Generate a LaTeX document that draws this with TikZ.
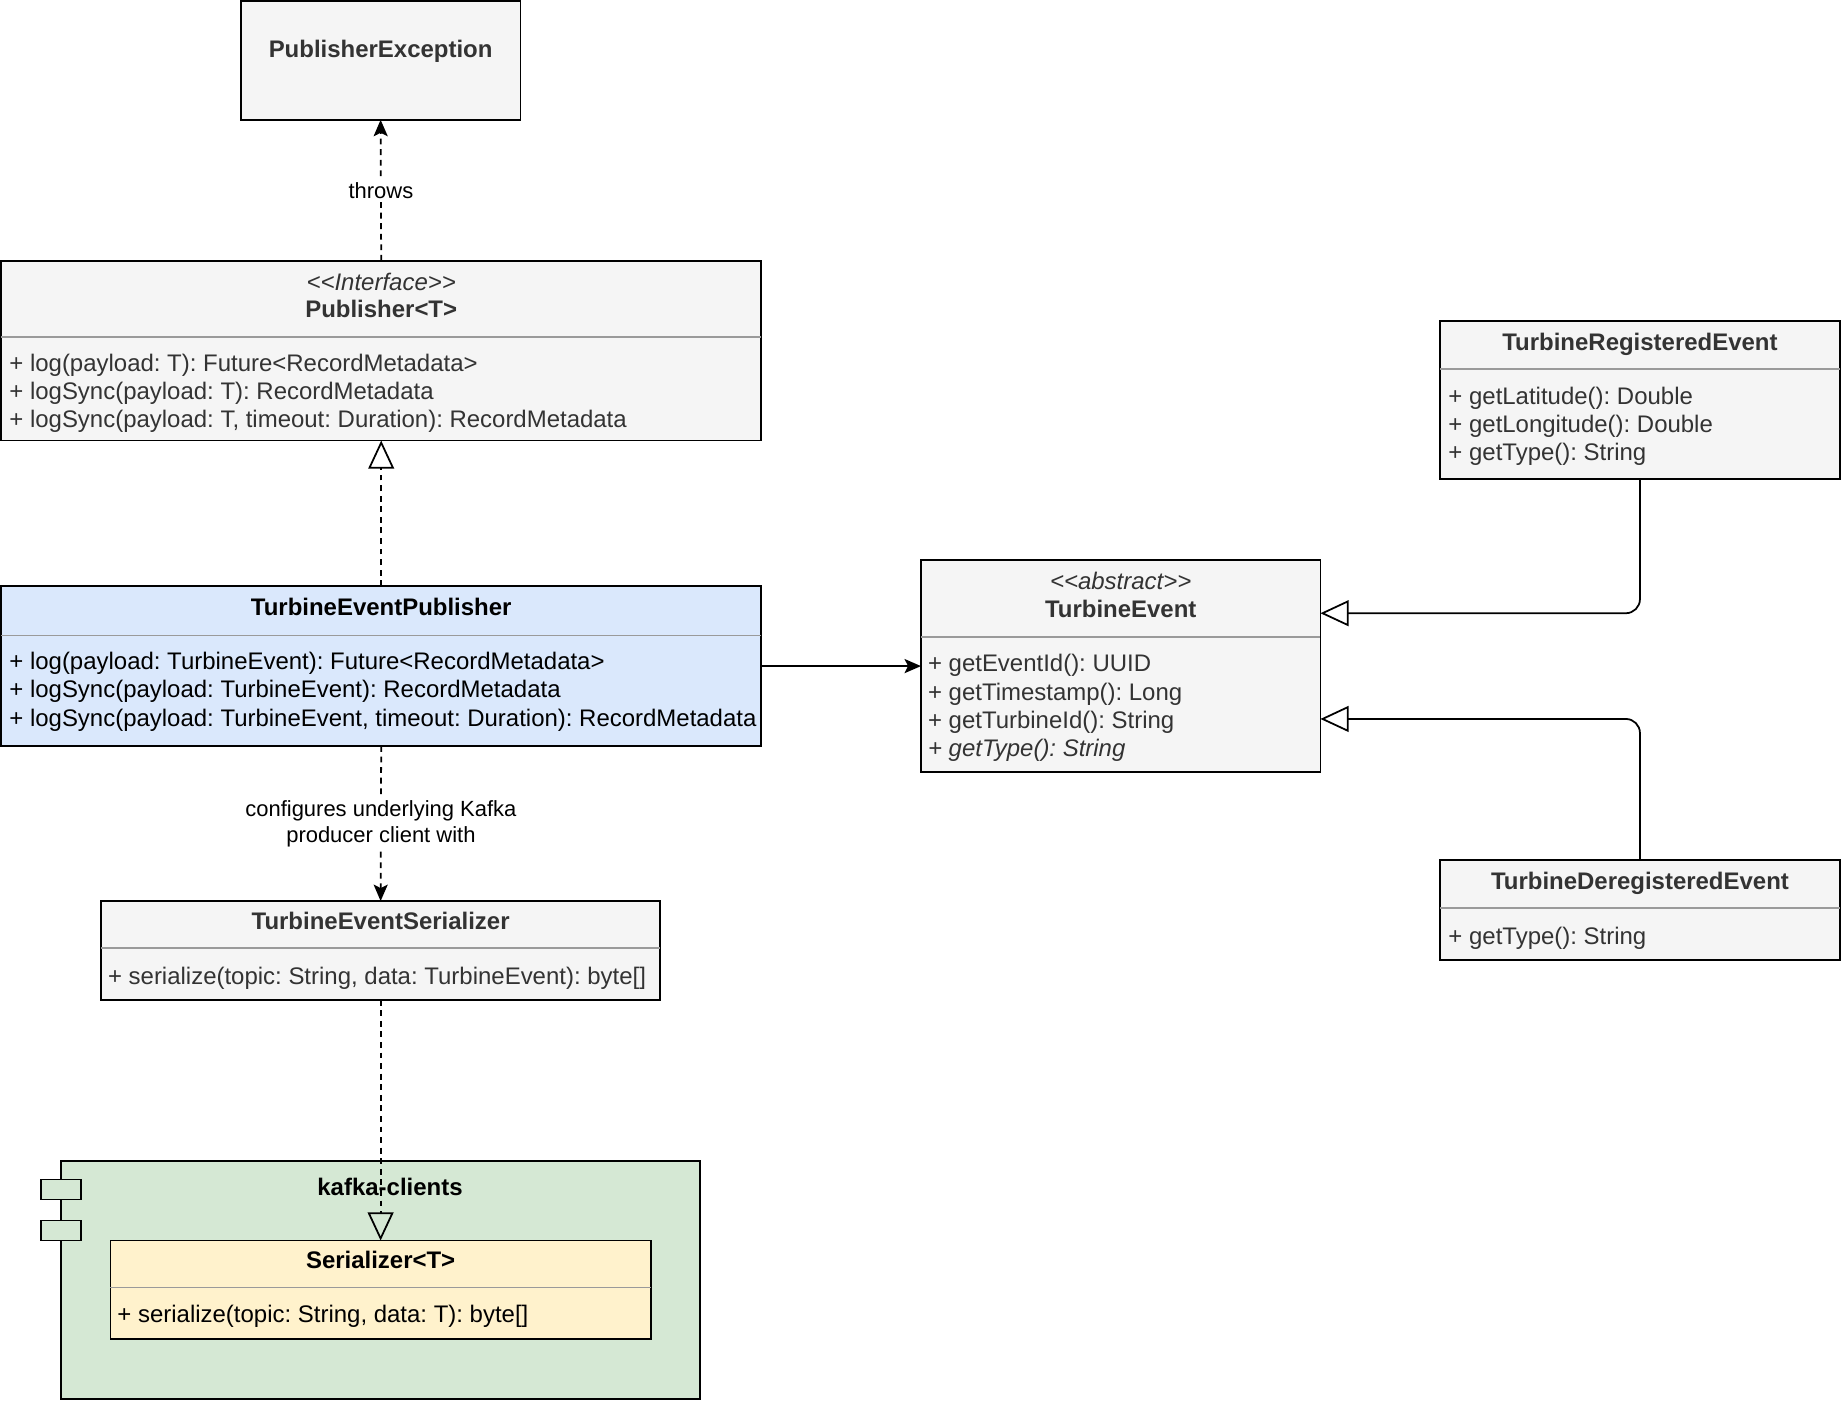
\documentclass[tikz,border=0pt]{standalone}
\usepackage{fontspec}
\setmainfont{Liberation Sans}
\usetikzlibrary{arrows.meta,calc}
\definecolor{grayfill}{HTML}{F5F5F5}
\definecolor{graytext}{HTML}{333333}
\definecolor{bluefill}{HTML}{DAE8FC}
\definecolor{greenfill}{HTML}{D5E8D4}
\definecolor{yellowfill}{HTML}{FFF2CC}
\definecolor{sepline}{HTML}{9A9A9A}
\frenchspacing
\tikzset{
 box/.style={draw=black, line width=1.5pt, inner sep=0pt, outer sep=0pt, anchor=north west},
 sepl/.style={draw=sepline, line width=1.5pt},
 txt/.style={inner sep=0pt, outer sep=0pt, font=\fontsize{20.4}{24}\selectfont},
 mth/.style={txt, anchor=base west},
 mthit/.style={txt, anchor=base west, font=\fontsize{20.4}{24}\selectfont\itshape},
 ttl/.style={txt, anchor=base, font=\fontsize{20.4}{24}\selectfont\bfseries},
 ster/.style={txt, anchor=base, font=\fontsize{20.4}{24}\selectfont\itshape},
 conn/.style={line width=1.5pt},
 dashedconn/.style={conn, dash pattern=on 5pt off 4pt},
 filledtip/.style={-{Stealth[length=14pt,width=12pt,inset=3pt]}},
 hollowtip/.style={-{Triangle[open,length=24pt,width=22pt]}},
 lbl/.style={inner sep=2pt, outer sep=0pt, fill=white, align=center, font=\fontsize{18.7}{22}\selectfont},
}
\begin{document}
\begin{tikzpicture}[x=1pt,y=-1pt]
\useasboundingbox (0,0) rectangle (1568,1193.5);

% PublisherException
\node[box, fill=grayfill, minimum width=238pt, minimum height=101pt] (pexc) at (205,1) {};
\node[ttl, text=graytext] (pexct) at (324,49) {PublisherException};

% Publisher<T>
\node[box, fill=grayfill, minimum width=647pt, minimum height=153pt] (pub) at (1,222) {};
\node[ster, text=graytext] (pubs) at (324.5,247) {{<}{<}Interface{>}{>}};
\node[ttl, text=graytext] (pubt) at (324.5,270) {Publisher{<}T{>}};
\draw[sepl] (pub.west|-0,287) -- (pub.east|-0,287);
\node[mth, text=graytext] (pubm1) at (8,316) {+ log(payload: T): Future{<}RecordMetadata{>}};
\node[mth, text=graytext] (pubm2) at (8,340) {+ logSync(payload: T): RecordMetadata};
\node[mth, text=graytext] (pubm3) at (8,364) {+ logSync(payload: T, timeout: Duration): RecordMetadata};

% TurbineEventPublisher
\node[box, fill=bluefill, minimum width=647pt, minimum height=136pt] (tep) at (1,499) {};
\node[ttl] (tept) at (324.5,524) {TurbineEventPublisher};
\draw[sepl] (tep.west|-0,541) -- (tep.east|-0,541);
\node[mth] (tepm1) at (8,570) {+ log(payload: TurbineEvent): Future{<}RecordMetadata{>}};
\node[mth] (tepm2) at (8,594) {+ logSync(payload: TurbineEvent): RecordMetadata};
\node[mth] (tepm3) at (8,618) {+ logSync(payload: TurbineEvent, timeout: Duration): RecordMetadata};

% TurbineEvent
\node[box, fill=grayfill, minimum width=340pt, minimum height=180pt] (te) at (784,477) {};
\node[ster, text=graytext] (tes1) at (954,502) {{<}{<}abstract{>}{>}};
\node[ttl, text=graytext] (tet) at (954,526) {TurbineEvent};
\draw[sepl] (te.west|-0,542) -- (te.east|-0,542);
\node[mth, text=graytext] (tem1) at (790,572) {+ getEventId(): UUID};
\node[mth, text=graytext] (tem2) at (790,596) {+ getTimestamp(): Long};
\node[mth, text=graytext] (tem3) at (790,620) {+ getTurbineId(): String};
\node[mthit, text=graytext] (tem4) at (790,644) {+ getType(): String};

% TurbineRegisteredEvent
\node[box, fill=grayfill, minimum width=340pt, minimum height=135pt] (tre) at (1226,273) {};
\node[ttl, text=graytext] (tret) at (1396,298) {TurbineRegisteredEvent};
\draw[sepl] (tre.west|-0,314) -- (tre.east|-0,314);
\node[mth, text=graytext] (trem1) at (1233,344) {+ getLatitude(): Double};
\node[mth, text=graytext] (trem2) at (1233,368) {+ getLongitude(): Double};
\node[mth, text=graytext] (trem3) at (1233,392) {+ getType(): String};

% TurbineDeregisteredEvent
\node[box, fill=grayfill, minimum width=340pt, minimum height=85pt] (tde) at (1226,732) {};
\node[ttl, text=graytext] (tdet) at (1396,757) {TurbineDeregisteredEvent};
\draw[sepl] (tde.west|-0,773) -- (tde.east|-0,773);
\node[mth, text=graytext] (tdem1) at (1233,804) {+ getType(): String};

% TurbineEventSerializer
\node[box, fill=grayfill, minimum width=476pt, minimum height=84pt] (tes) at (86,767) {};
\node[ttl, text=graytext] (test) at (324,791) {TurbineEventSerializer};
\draw[sepl] (tes.west|-0,807) -- (tes.east|-0,807);
\node[mth, text=graytext] (tesm1) at (92,838) {+ serialize(topic: String, data: TurbineEvent): byte[]};

% kafka-clients component
\node[box, fill=greenfill, minimum width=544pt, minimum height=203pt] (kc) at (52,988) {};
\node[box, fill=greenfill, minimum width=34pt, minimum height=17pt] (kcp1) at (35,1004) {};
\node[box, fill=greenfill, minimum width=34pt, minimum height=17pt] (kcp2) at (35,1039) {};
\node[ttl] (kct) at (332,1018) {kafka-clients};

% Serializer<T>
\node[box, fill=yellowfill, minimum width=460pt, minimum height=84pt] (ser) at (94,1056) {};
\node[ttl] (sert) at (324,1080) {Serializer{<}T{>}};
\draw[sepl] (ser.west|-0,1096) -- (ser.east|-0,1096);
\node[mth] (serm1) at (100,1126) {+ serialize(topic: String, data: T): byte[]};

% connectors
\draw[dashedconn, filledtip] (pub.north) -- node[lbl] (lthrows) {throws} (pexc.south);
\draw[dashedconn, hollowtip] (tep.north) -- (pub.south);
\draw[conn, filledtip] (tep.east) -- (te.west);
\draw[dashedconn, filledtip] (tep.south) -- node[lbl] (lconf) {configures underlying Kafka\\producer client with} (tes.north);
\draw[dashedconn, hollowtip] (tes.south) -- (ser.north);
\draw[conn, hollowtip, rounded corners=12pt] (tre.south) |- ($(te.north east)!0.25!(te.south east)$);
\draw[conn, hollowtip, rounded corners=12pt] (tde.north) |- ($(te.north east)!0.75!(te.south east)$);
\end{tikzpicture}
\end{document}
